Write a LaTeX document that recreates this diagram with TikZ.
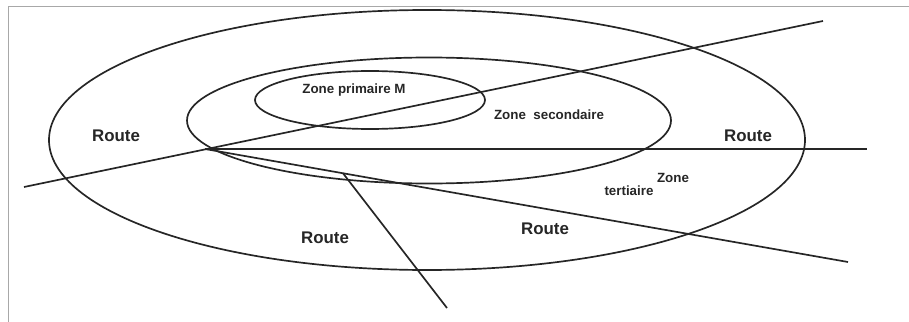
\documentclass[tikz,border=0pt]{standalone}
\usepackage{fontspec}
\setmainfont{Liberation Sans}
\usetikzlibrary{calc}
\definecolor{ink}{HTML}{262626}
\definecolor{framegray}{HTML}{A8A8A8}

\tikzset{
  road/.style={draw=ink, line width=1.2pt},
  zoneline/.style={draw=ink, line width=1.2pt},
  routelabel/.style={font=\bfseries\fontsize{12}{14}\selectfont, text=ink},
  zonelabel/.style={font=\bfseries\fontsize{9.5}{11}\selectfont, text=ink}
}

\begin{document}
\begin{tikzpicture}[x=0.025cm, y=-0.025cm]
  \useasboundingbox (0,0) rectangle (909,322);
  % frame
  \draw[framegray, line width=1.4pt] (8.5,322) -- (8.5,6.5) -- (909,6.5);

  % zones
  \draw[zoneline] (427,140) ellipse (378 and 130);
  \draw[zoneline] (429,120.5) ellipse (242 and 63);
  \draw[zoneline] (370,100) ellipse (115 and 29);

  % roads
  \coordinate (hub) at (205,149);
  \coordinate (swEnd) at (24,187);
  \coordinate (neEnd) at (823,21);
  \coordinate (eEnd) at (867,149);
  \coordinate (seEnd) at (848,262);
  \coordinate (fork) at ($(hub)!0.2146!(seEnd)$);
  \coordinate (sEnd) at (447,308);
  \draw[road] (swEnd) -- (neEnd);
  \draw[road] (hub) -- (eEnd);
  \draw[road] (hub) -- (seEnd);
  \draw[road] (fork) -- (sEnd);

  % labels
  \node[zonelabel] (primaire) at (354,90) {Zone primaire M};
  \node[zonelabel] (secondaire) at (549,115) {Zone\ \ secondaire};
  \node[zonelabel] (zone) at (673,178) {Zone};
  \node[zonelabel] (tertiaire) at (629,191) {tertiaire};
  \node[routelabel] (routeW) at (116,136) {Route};
  \node[routelabel] (routeE) at (748,136) {Route};
  \node[routelabel] (routeSW) at (325,238) {Route};
  \node[routelabel] (routeS) at (545,229) {Route};
\end{tikzpicture}
\end{document}
